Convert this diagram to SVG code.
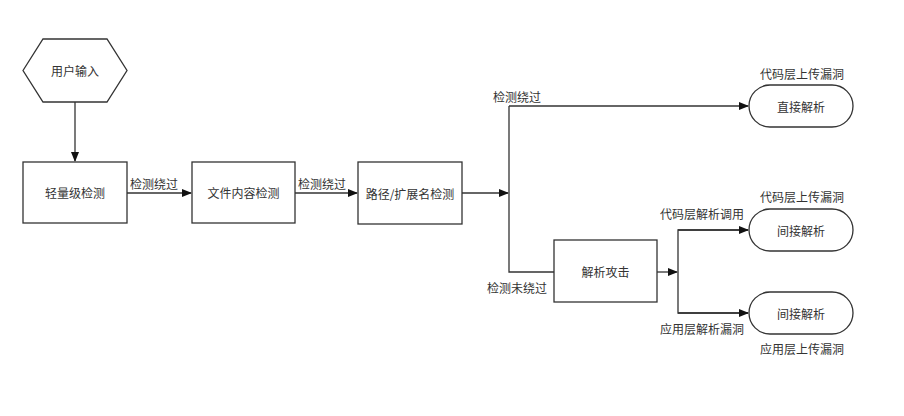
<svg xmlns="http://www.w3.org/2000/svg" width="904" height="416" viewBox="0 0 904 416">
<defs>
<style>
.n{fill:#fff;stroke:#333;stroke-width:1.3}
.c{fill:none;stroke:#333;stroke-width:1.3}
text{font-family:"Noto Sans CJK SC","Liberation Sans",sans-serif;font-size:12px;fill:#333}
.m{text-anchor:middle;dominant-baseline:central}
</style>
<marker id="ah" markerWidth="10" markerHeight="8" refX="9" refY="4" orient="auto" markerUnits="userSpaceOnUse">
<path d="M0,0 L10,4 L0,8 Z" fill="#111"/>
</marker>
</defs>
<rect width="904" height="416" fill="#fff"/>
<g id="connectors">
<line class="c" x1="75" y1="102" x2="75" y2="161" marker-end="url(#ah)"/>
<line class="c" x1="127" y1="193" x2="191" y2="193" marker-end="url(#ah)"/>
<line class="c" x1="295" y1="193" x2="357" y2="193" marker-end="url(#ah)"/>
<line class="c" x1="462" y1="193" x2="508" y2="193" marker-end="url(#ah)"/>
<polyline class="c" points="509,106 509,272 554,272"/>
<line class="c" x1="509" y1="106" x2="748" y2="106" marker-end="url(#ah)"/>
<line class="c" x1="657" y1="272" x2="677" y2="272" marker-end="url(#ah)"/>
<polyline class="c" points="748,230 678,230 678,313 748,313"/>
<line class="c" x1="678" y1="230" x2="748" y2="230" marker-end="url(#ah)"/>
<line class="c" x1="678" y1="313" x2="748" y2="313" marker-end="url(#ah)"/>
<text x="154" y="183" class="m">检测绕过</text>
<text x="322" y="183" class="m">检测绕过</text>
<text x="517" y="96" class="m">检测绕过</text>
<text x="517" y="287" class="m">检测未绕过</text>
<text x="702" y="213" class="m">代码层解析调用</text>
<text x="702" y="328" class="m">应用层解析漏洞</text>
</g>
<g id="user-input">
<polygon class="n" points="23,70.5 43,39 107,39 127,70.5 107,102 43,102"/>
<text x="75" y="70.5" class="m">用户输入</text>
</g>
<g id="light-check">
<rect class="n" x="23" y="162" width="104" height="61"/>
<text x="75" y="192.5" class="m">轻量级检测</text>
</g>
<g id="content-check">
<rect class="n" x="192" y="162" width="103" height="61"/>
<text x="243.5" y="192.5" class="m">文件内容检测</text>
</g>
<g id="path-check">
<rect class="n" x="358" y="162" width="104" height="62"/>
<text x="410" y="193" class="m">路径/扩展名检测</text>
</g>
<g id="parse-attack">
<rect class="n" x="554" y="240" width="103" height="62"/>
<text x="605.5" y="271" class="m">解析攻击</text>
</g>
<g id="direct-parse">
<rect class="n" x="749" y="85" width="104" height="42" rx="21"/>
<text x="801" y="106" class="m">直接解析</text>
<text x="802" y="73" class="m">代码层上传漏洞</text>
</g>
<g id="indirect-parse-1">
<rect class="n" x="749" y="209" width="104" height="42" rx="21"/>
<text x="801" y="230" class="m">间接解析</text>
<text x="802" y="196" class="m">代码层上传漏洞</text>
</g>
<g id="indirect-parse-2">
<rect class="n" x="749" y="292" width="104" height="42" rx="21"/>
<text x="801" y="313" class="m">间接解析</text>
<text x="802" y="348" class="m">应用层上传漏洞</text>
</g>
</svg>
